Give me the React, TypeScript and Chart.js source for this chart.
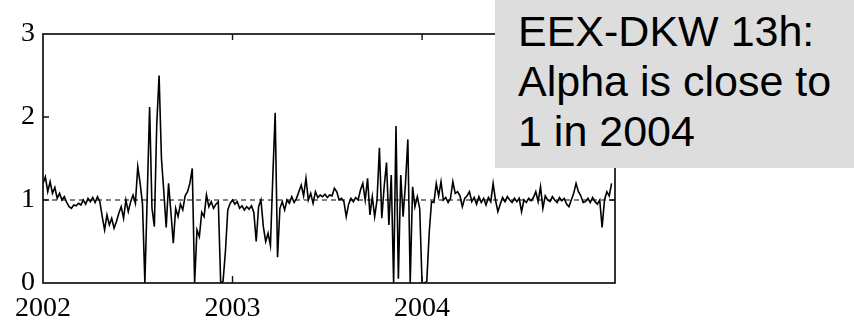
import React, { useEffect, useRef } from 'react';
import { Chart, registerables } from 'chart.js';

Chart.register(...registerables);

// ---- data (alpha estimates, sampled 80 times per year) ----
const SAMPLES_PER_YEAR = 80;
const seriesStartYears = [2002, 2003, 2004];

const alpha2002 = [
  1.2, 1.28, 1.1, 1.22, 1.08, 1.15, 1.02, 1.08, 1.0, 1.04,
  0.97, 0.92, 0.9, 0.94, 0.93, 0.96, 0.94, 1.0, 0.95, 1.02,
  0.98, 1.03, 0.97, 1.04, 0.98, 0.8, 0.64, 0.82, 0.7, 0.78,
  0.66, 0.74, 0.84, 0.92, 0.78, 1.0, 0.86, 0.98, 1.06, 0.96,
  1.4, 1.2, 0.95, 0, 1.05, 2.12, 0.9, 0.68, 1.9, 2.5,
  1.5, 1.1, 0.67, 1.2, 0.85, 0.48, 0.9, 0.8, 0.95, 0.88,
  1.05, 1.1, 1.2, 1.38, 0, 0.64, 0.56, 0.85, 0.8, 1.06,
  0.92, 0.98, 0.9, 0.95, 0.98, 0, 0.02, 0.38, 0.88, 0.96,
];

const alpha2003 = [
  1.0, 0.95, 0.98, 0.9, 0.93, 0.88, 0.92, 0.89, 0.93, 0.85,
  0.5, 0.92, 1.0, 0.68, 0.5, 0.6, 0.45, 1.28, 2.05, 0.31,
  0.9, 0.98, 0.88, 1.0, 0.96, 1.04, 0.97, 1.02, 1.1, 1.18,
  1.05, 1.26, 1.0, 1.08, 0.96, 1.1, 1.03, 1.06, 1.04, 1.07,
  1.03, 1.06, 1.05, 1.14, 1.1, 1.0, 1.02, 0.98, 0.8, 0.95,
  1.02, 0.98, 1.03, 1.0, 1.12, 1.2, 1.0, 1.26, 0.82, 1.04,
  0.8, 1.0, 1.63, 0.78, 1.16, 1.45, 0.7, 1.3, 0, 1.89,
  0.05, 1.3, 0.8, 1.2, 1.73, 0, 1.16, 0.92, 1.04, 0.9,
];

const alpha2004 = [
  0, 0, 0.02, 0.6, 0.98, 0.97, 1.2, 1.05, 1.22, 1.0,
  1.03, 0.97, 1.02, 1.22, 1.08, 1.1, 1.05, 0.92, 1.02, 1.05,
  1.1, 0.98, 1.03, 0.95, 1.04, 0.97, 1.02, 0.94, 1.03, 0.98,
  1.2, 1.0, 0.86, 0.95, 1.03, 0.98, 1.04, 1.0, 0.97, 1.02,
  0.98, 1.02, 0.86, 1.0, 0.97, 1.02, 0.99, 1.03, 1.1, 0.98,
  1.16, 0.9, 1.05, 1.0, 0.98, 1.04, 1.0, 0.97, 1.03, 0.99,
  1.02, 0.95, 0.92, 1.0, 1.08, 1.2, 1.1, 1.05, 0.97, 0.98,
  1.02, 0.97, 1.03, 0.98, 0.95, 1.0, 0.67, 1.0, 1.1, 1.05,
  1.2,
];

const referenceLevel = 1;
const xTickValues = [2002, 2003, 2004];
const yTickValues = [0, 1, 2, 3];
const xMin = 2002;
const xMax = 2005.018;
const yMin = 0;
const yMax = 3;
const noteLines = ['EEX-DKW 13h:', 'Alpha is close to', '1 in 2004'];

const yearlySeries = [alpha2002, alpha2003, alpha2004];
const alphaPoints = yearlySeries.flatMap((vals, k) =>
  vals.map((v, i) => ({ x: seriesStartYears[k] + i / SAMPLES_PER_YEAR, y: v }))
);

const framePlugin = {
  id: 'frame',
  afterDatasetsDraw(chart: any) {
    const { ctx, chartArea, scales } = chart;
    const { left, top, right, bottom } = chartArea;
    ctx.save();
    ctx.strokeStyle = '#111';
    ctx.lineWidth = 1.7;
    ctx.strokeRect(left, top, right - left, bottom - top);
    ctx.lineWidth = 1.4;
    ctx.beginPath();
    for (const v of yTickValues) {
      if (v === yMin || v === yMax) continue;
      const y = scales.y.getPixelForValue(v);
      ctx.moveTo(left, y);
      ctx.lineTo(left + 6, y);
      ctx.moveTo(right, y);
      ctx.lineTo(right - 6, y);
    }
    for (const v of xTickValues) {
      if (v === xMin) continue;
      const x = scales.x.getPixelForValue(v);
      ctx.moveTo(x, bottom);
      ctx.lineTo(x, bottom - 7);
      ctx.moveTo(x, top);
      ctx.lineTo(x, top + 6);
    }
    ctx.stroke();
    ctx.restore();
  },
};

const tickFont = { family: '"Liberation Serif", "Times New Roman", serif', size: 28 };

export default function App() {
  const ref = useRef<HTMLCanvasElement>(null);

  useEffect(() => {
    const chart = new Chart(ref.current!, {
      type: 'line',
      data: {
        datasets: [
          {
            data: [
              { x: xMin, y: referenceLevel },
              { x: xMax, y: referenceLevel },
            ],
            borderColor: '#000',
            borderWidth: 1.2,
            borderDash: [5, 4],
            pointRadius: 0,
            fill: false,
          },
          {
            data: alphaPoints,
            borderColor: '#000',
            borderWidth: 1.6,
            pointRadius: 0,
            tension: 0,
            fill: false,
          },
        ],
      },
      options: {
        responsive: false,
        animation: false,
        devicePixelRatio: 1,
        layout: { padding: { left: 0, top: 34, right: 239, bottom: 0 } },
        plugins: { legend: { display: false }, tooltip: { enabled: false } },
        scales: {
          x: {
            type: 'linear',
            min: xMin,
            max: xMax,
            grid: { display: false, drawTicks: false },
            border: { display: false },
            ticks: {
              font: tickFont,
              color: '#000',
              padding: 9,
              maxRotation: 0,
              autoSkip: false,
              callback: (v: any) => String(v),
            },
            afterBuildTicks: (s: any) => {
              s.ticks = xTickValues.map((v) => ({ value: v }));
            },
            afterFit: (s: any) => {
              s.height = 37;
            },
          },
          y: {
            min: yMin,
            max: yMax,
            grid: { display: false, drawTicks: false },
            border: { display: false },
            ticks: {
              font: tickFont,
              color: '#000',
              padding: 8,
              callback: (v: any) => String(v),
            },
            afterBuildTicks: (s: any) => {
              s.ticks = yTickValues.map((v) => ({ value: v }));
            },
            afterFit: (s: any) => {
              s.width = 43;
            },
          },
        },
      },
      plugins: [framePlugin],
    });
    return () => chart.destroy();
  }, []);

  return (
    <div
      style={{
        position: 'fixed',
        left: 0,
        top: 0,
        width: 854,
        height: 320,
        background: '#fff',
        overflow: 'hidden',
      }}
    >
      <canvas
        ref={ref}
        width={854}
        height={320}
        style={{ position: 'absolute', left: 0, top: 0, width: 854, height: 320 }}
      />
      <div
        style={{
          position: 'absolute',
          left: 495,
          top: 0,
          width: 359,
          height: 168,
          background: '#dddddd',
          fontFamily: '"Liberation Sans", Arial, sans-serif',
          fontSize: 43,
          lineHeight: '50px',
          color: '#000',
          paddingLeft: 23,
          paddingTop: 6,
          boxSizing: 'border-box',
        }}
      >
        {noteLines.map((t) => (
          <div key={t} style={{ whiteSpace: 'nowrap' }}>
            {t}
          </div>
        ))}
      </div>
    </div>
  );
}
